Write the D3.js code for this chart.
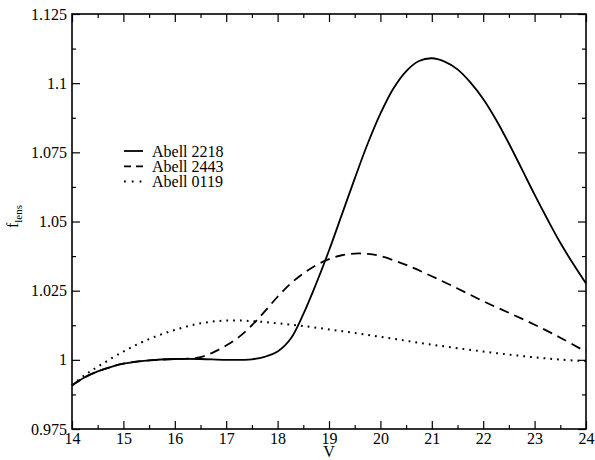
<!DOCTYPE html>
<html>
<head>
<meta charset="utf-8">
<script src="https://cdn.jsdelivr.net/npm/d3@7"></script>
<style>
  body { margin: 0; background: #fff; }
  text { font-family: "Liberation Serif", "Times New Roman", serif; fill: #000; }
</style>
</head>
<body>
<main></main>
<script>
const width = 595, height = 460;

// values
const vA2218 = [14, 14.25, 14.5, 14.75, 15, 15.5, 16, 16.5, 17, 17.5, 17.75, 18, 18.25, 18.5, 18.75, 19, 19.25, 19.5, 19.75, 20, 20.25, 20.5, 20.75, 21, 21.25, 21.5, 21.75, 22, 22.25, 22.5, 22.75, 23, 23.25, 23.5, 23.75, 24];
const fA2218 = [0.9908, 0.9937, 0.9958, 0.9974, 0.9986, 0.9998, 1.0003, 1.0003, 1.0000, 1.0002, 1.0011, 1.0030, 1.0075, 1.0165, 1.0275, 1.0395, 1.0525, 1.0655, 1.0780, 1.0890, 1.0980, 1.1043, 1.1080, 1.1090, 1.1078, 1.1050, 1.1003, 1.0943, 1.0868, 1.0782, 1.0690, 1.0597, 1.0508, 1.0423, 1.0347, 1.0276];

const vA2443 = [14, 14.25, 14.5, 14.75, 15, 15.5, 16, 16.25, 16.5, 16.75, 17, 17.25, 17.5, 17.75, 18, 18.25, 18.5, 18.75, 19, 19.25, 19.5, 19.75, 20, 20.5, 21, 21.5, 22, 22.5, 23, 23.5, 24];
const fA2443 = [0.9908, 0.9937, 0.9958, 0.9974, 0.9986, 0.9998, 1.0003, 1.0004, 1.0010, 1.0027, 1.0052, 1.0083, 1.0125, 1.0175, 1.0228, 1.0275, 1.0312, 1.0342, 1.0364, 1.0378, 1.0384, 1.0383, 1.0375, 1.0343, 1.0302, 1.0258, 1.0212, 1.0170, 1.0127, 1.0080, 1.0029];

const vA0119 = [14, 14.25, 14.5, 15, 15.5, 16, 16.5, 17, 17.5, 18, 18.5, 19, 19.5, 20, 20.5, 21, 21.5, 22, 22.5, 23, 23.5, 24];
const fA0119 = [0.9908, 0.9945, 0.9975, 1.0030, 1.0075, 1.0108, 1.0132, 1.0142, 1.0140, 1.0132, 1.0122, 1.0110, 1.0097, 1.0083, 1.0069, 1.0055, 1.0042, 1.0030, 1.0019, 1.0009, 1.0001, 0.9995];

const seriesNames = ["Abell 2218", "Abell 2443", "Abell 0119"];

const xMajor = [14, 15, 16, 17, 18, 19, 20, 21, 22, 23, 24];
const xMinor = [14.5, 15.5, 16.5, 17.5, 18.5, 19.5, 20.5, 21.5, 22.5, 23.5];
const yMajor = [0.975, 1, 1.025, 1.05, 1.075, 1.1, 1.125];
const yMinor = [0.9875, 1.0125, 1.0375, 1.0625, 1.0875, 1.1125];
const yLabels = ["0.975", "1", "1.025", "1.05", "1.075", "1.1", "1.125"];

const margin = {top: 14, right: 9, bottom: 31, left: 72};
const iw = width - margin.left - margin.right;
const ih = height - margin.top - margin.bottom;

const svg = d3.select("main").append("svg")
    .attr("width", width)
    .attr("height", height);

const g = svg.append("g").attr("transform", "translate(" + margin.left + "," + margin.top + ")");

const x = d3.scaleLinear().domain([14, 24]).range([0, iw]);
const y = d3.scaleLinear().domain([0.975, 1.125]).range([ih, 0]);

// ticks point inward on all four sides
function tickAxis(axis, vals, size, fmt) {
  return axis.tickValues(vals).tickSizeInner(-size).tickSizeOuter(0).tickFormat(fmt || "");
}

g.append("g").attr("transform", "translate(0," + ih + ")")
    .call(tickAxis(d3.axisBottom(x), xMajor, 8, d3.format("d")))
    .call(a => a.selectAll("text").attr("dy", "0.71em").attr("y", 4));
g.append("g").attr("transform", "translate(0," + ih + ")").call(tickAxis(d3.axisBottom(x), xMinor, 4));
g.append("g").call(tickAxis(d3.axisTop(x), xMajor, 8));
g.append("g").call(tickAxis(d3.axisTop(x), xMinor, 4));

g.append("g")
    .call(tickAxis(d3.axisLeft(y), yMajor, 8, (d, i) => yLabels[i]))
    .call(a => a.selectAll("text").attr("x", -5));
g.append("g").call(tickAxis(d3.axisLeft(y), yMinor, 4));
g.append("g").attr("transform", "translate(" + iw + ",0)").call(tickAxis(d3.axisRight(y), yMajor, 8));
g.append("g").attr("transform", "translate(" + iw + ",0)").call(tickAxis(d3.axisRight(y), yMinor, 4));

g.selectAll(".domain").remove();
g.selectAll(".tick line").attr("stroke", "#000").attr("stroke-width", 1.2);
g.selectAll(".tick text").style("font-size", "16px").attr("fill", "#000");

g.append("rect")
    .attr("width", iw).attr("height", ih)
    .attr("fill", "none").attr("stroke", "#000").attr("stroke-width", 1.6);

const styles = [
  {dash: null, legendDash: null},
  {dash: "10,6", legendDash: "7,5"},
  {dash: "1.8,5", legendDash: "1.8,6"}
];
const series = [
  {v: vA2218, f: fA2218},
  {v: vA2443, f: fA2443},
  {v: vA0119, f: fA0119}
];

const line = d3.line().x(d => x(d[0])).y(d => y(d[1])).curve(d3.curveCatmullRom.alpha(0.5));

series.forEach((s, i) => {
  g.append("path")
      .datum(s.v.map((v, j) => [v, s.f[j]]))
      .attr("d", line)
      .attr("fill", "none")
      .attr("stroke", "#000")
      .attr("stroke-width", i === 2 ? 2 : 1.8)
      .attr("stroke-dasharray", styles[i].dash);
});

// legend
const legend = svg.append("g").attr("transform", "translate(124,151)");
seriesNames.forEach((name, i) => {
  const row = legend.append("g").attr("transform", "translate(0," + i * 15.3 + ")");
  row.append("line")
      .attr("x1", 0).attr("x2", 19).attr("y1", 0).attr("y2", 0)
      .attr("stroke", "#000").attr("stroke-width", i === 2 ? 2 : 1.8)
      .attr("stroke-dasharray", styles[i].legendDash);
  row.append("text")
      .attr("x", 28).attr("dy", "0.35em")
      .style("font-size", "16px")
      .text(name);
});

// axis titles
svg.append("text")
    .attr("x", margin.left + iw / 2).attr("y", height - 3)
    .attr("text-anchor", "middle")
    .style("font-size", "16px")
    .text("V");

const yt = svg.append("text")
    .attr("transform", "translate(18," + (margin.top + ih / 2 - 5) + ") rotate(-90)")
    .attr("text-anchor", "middle")
    .style("font-size", "16px");
yt.append("tspan").text("f");
yt.append("tspan").attr("dy", 4).style("font-size", "11px").text("lens");
</script>
</body>
</html>
